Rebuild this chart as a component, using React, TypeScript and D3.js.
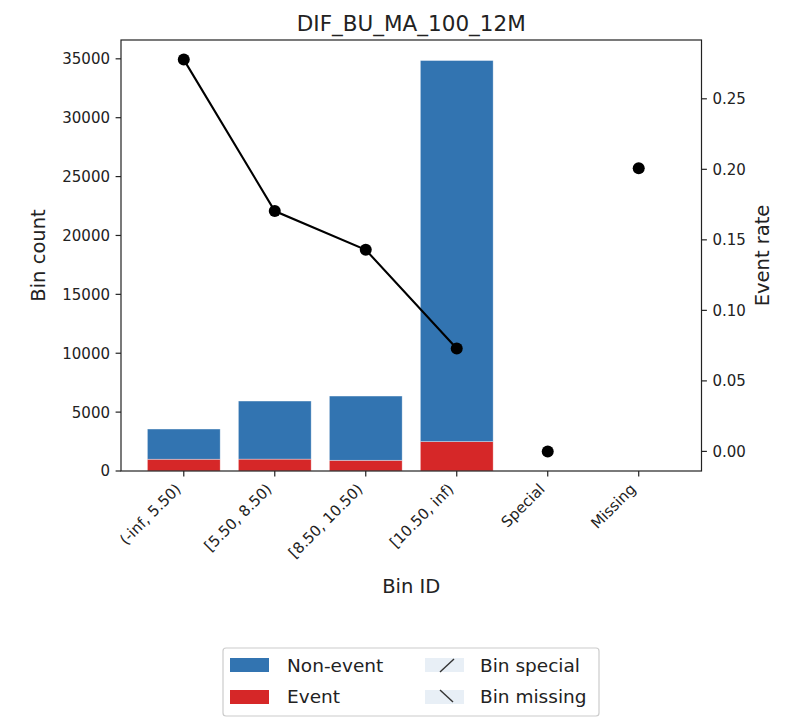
import React from "react";
import * as d3 from "d3";

const categories = ["(-inf, 5.50)", "[5.50, 8.50)", "[8.50, 10.50)", "[10.50, inf)", "Special", "Missing"];
const eventCounts = [1000, 1010, 910, 2495, 0, 0];
const nonEventCounts = [2564, 4931, 5455, 32360, 0, 0];
const eventRates = [0.2778, 0.1704, 0.1429, 0.073, 0, 0.2008];
const leftTicks = [0, 5000, 10000, 15000, 20000, 25000, 30000, 35000];
const rightTicks = [0, 0.05, 0.1, 0.15, 0.2, 0.25];
const nBins = 4; // number of regular bins joined by the line

const W = 788;
const H = 718;
const L = 121;
const R = 701.5;
const T = 40;
const B = 471;
const FONT = "DejaVu Sans, sans-serif";
const BLUE = "#3274b1";
const RED = "#d62728";

export default function App() {
  const n = categories.length;
  const x = d3.scaleLinear().domain([-0.69, n - 1 + 0.69]).range([L, R]);
  const unit = x(1) - x(0);
  const barW = 0.8 * unit;

  const rows = categories.map((c, i) => ({ cat: c, event: eventCounts[i], nonevent: nonEventCounts[i] }));
  const stacked = d3.stack<any>().keys(["event", "nonevent"])(rows);
  const maxTotal = d3.max(stacked[1], (d) => d[1]) as number;
  const yL = d3.scaleLinear().domain([0, maxTotal * 1.05]).range([B, T]);

  const rMin = d3.min(eventRates) as number;
  const rMax = d3.max(eventRates) as number;
  const pad = (rMax - rMin) * 0.05;
  const yR = d3.scaleLinear().domain([rMin - pad, rMax + pad]).range([B, T]);

  const line = d3
    .line<number>()
    .x((_, i) => x(i))
    .y((d) => yR(d));

  const tickLen = 5.4;

  return (
    <div style={{ position: "absolute", left: 0, top: 0 }}>
      <svg width={W} height={H} style={{ display: "block", fontFamily: FONT }}>
        <rect width={W} height={H} fill="white" />
        {/* bars */}
        {stacked.map((layer, li) => (
          <g key={li}>
            {layer.map((d, i) =>
              d[1] - d[0] > 0 ? (
                <rect
                  key={i}
                  x={x(i) - barW / 2}
                  y={yL(d[1])}
                  width={barW}
                  height={yL(d[0]) - yL(d[1])}
                  fill={li === 0 ? RED : BLUE}
                  stroke="white"
                  strokeOpacity={0.5}
                  strokeWidth={0.7}
                />
              ) : null
            )}
          </g>
        ))}
        {/* event rate line */}
        <path d={line(eventRates.slice(0, nBins)) || ""} fill="none" stroke="black" strokeWidth={2.1} />
        {eventRates.map((r, i) => (
          <circle key={i} cx={x(i)} cy={yR(r)} r={6} fill="black" />
        ))}
        {/* frame */}
        <rect x={L} y={T} width={R - L} height={B - T} fill="none" stroke="#222" strokeWidth={1.2} />
        {/* left axis */}
        {leftTicks.map((t) => (
          <g key={t}>
            <line x1={L - tickLen} x2={L} y1={yL(t)} y2={yL(t)} stroke="#222" strokeWidth={1.2} />
            <text x={L - 11} y={yL(t)} dy="0.36em" textAnchor="end" fontSize={15} fill="#222">
              {t}
            </text>
          </g>
        ))}
        {/* right axis */}
        {rightTicks.map((t) => (
          <g key={t}>
            <line x1={R} x2={R + tickLen} y1={yR(t)} y2={yR(t)} stroke="#222" strokeWidth={1.2} />
            <text x={R + 11} y={yR(t)} dy="0.36em" textAnchor="start" fontSize={15} fill="#222">
              {t.toFixed(2)}
            </text>
          </g>
        ))}
        {/* x axis */}
        {categories.map((c, i) => (
          <g key={c}>
            <line x1={x(i)} x2={x(i)} y1={B} y2={B + tickLen} stroke="#222" strokeWidth={1.2} />
            <text
              transform={`translate(${x(i) - 2},${B + 19}) rotate(-45)`}
              textAnchor="end"
              fontSize={15}
              fill="#222"
            >
              {c}
            </text>
          </g>
        ))}
        {/* labels */}
        <text x={(L + R) / 2} y={31} textAnchor="middle" fontSize={21.5} fill="#222">
          DIF_BU_MA_100_12M
        </text>
        <text x={(L + R) / 2} y={593} textAnchor="middle" fontSize={19.5} fill="#222">
          Bin ID
        </text>
        <text transform={`translate(45,${(T + B) / 2}) rotate(-90)`} textAnchor="middle" fontSize={19.5} fill="#222">
          Bin count
        </text>
        <text transform={`translate(769,${(T + B) / 2}) rotate(-90)`} textAnchor="middle" fontSize={19.5} fill="#222">
          Event rate
        </text>
        {/* legend */}
        <rect x={223} y={648} width={376} height={68} rx={3} fill="white" stroke="#cccccc" strokeWidth={1.2} />
        <rect x={230} y={658} width={39} height={14} fill={BLUE} />
        <rect x={230} y={690} width={39} height={14} fill={RED} />
        <text x={287} y={672} fontSize={18.5} fill="#222">Non-event</text>
        <text x={287} y={703} fontSize={18.5} fill="#222">Event</text>
        <rect x={425} y={658} width={39} height={14} fill="#e8eff6" />
        <line x1={440} y1={672} x2={454} y2={659} stroke="#333" strokeWidth={1.4} />
        <rect x={425} y={690} width={39} height={14} fill="#e8eff6" />
        <line x1={440} y1={690} x2={453} y2={702} stroke="#333" strokeWidth={1.4} />
        <text x={480} y={672} fontSize={18.5} fill="#222">Bin special</text>
        <text x={480} y={703} fontSize={18.5} fill="#222">Bin missing</text>
      </svg>
    </div>
  );
}
